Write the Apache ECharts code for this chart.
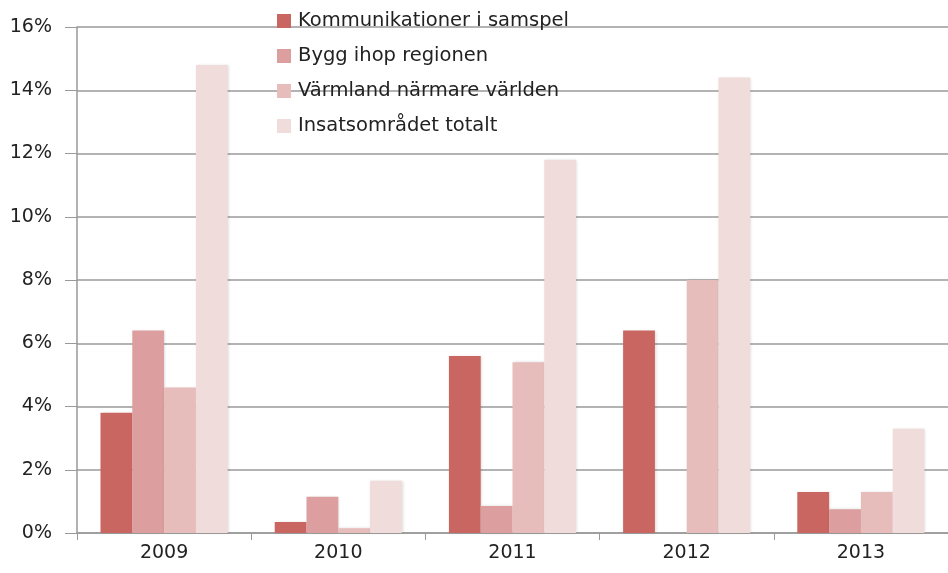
<!DOCTYPE html>
<html>
<head>
<meta charset="utf-8">
<script src="https://cdn.jsdelivr.net/npm/echarts@6/dist/echarts.min.js"></script>
<style>
  html, body { margin: 0; padding: 0; background: #fff; }
  #chart { width: 948px; height: 573px; }
</style>
</head>
<body>
<div id="chart"></div>
<script>
const years = ['2009', '2010', '2011', '2012', '2013']
const seriesNames = ['Kommunikationer i samspel', 'Bygg ihop regionen', 'Värmland närmare världen', 'Insatsområdet totalt']
const kommunikation = [3.8, 0.35, 5.6, 6.4, 1.3]
const byggIhop = [6.4, 1.15, 0.85, 0, 0.75]
const varmland = [4.6, 0.15, 5.4, 8.0, 1.3]
const totalt = [14.8, 1.65, 11.8, 14.4, 3.3]
const colors = ['#c96661', '#dc9e9e', '#e7bdbb', '#f0dcdb']

const chart = echarts.init(document.getElementById('chart'))
const font = 'DejaVu Sans'
const values = [kommunikation, byggIhop, varmland, totalt]

const option = {
  animation: false,
  textStyle: { fontFamily: font },
  grid: { left: 77, top: 27, width: 876, height: 506 },
  legend: {
    orient: 'vertical',
    left: 272,
    top: 6,
    itemWidth: 14,
    itemHeight: 14,
    itemGap: 15,
    icon: 'rect',
    textStyle: { fontFamily: font, fontSize: 19.5, color: '#222', padding: [0, 0, 0, 2] },
    data: seriesNames
  },
  xAxis: {
    type: 'category',
    data: years,
    axisLine: { show: true, lineStyle: { color: '#999', width: 1.5 } },
    axisTick: { show: true, length: 7, lineStyle: { color: '#999' } },
    axisLabel: { fontSize: 19, color: '#222', margin: 11 }
  },
  yAxis: {
    type: 'value',
    min: 0,
    max: 16,
    interval: 2,
    axisLine: { show: true, lineStyle: { color: '#999', width: 1.5 } },
    axisTick: { show: true, inside: false, length: 12, lineStyle: { color: '#999' } },
    splitLine: { lineStyle: { color: '#9a9a9a', width: 1.5 } },
    axisLabel: { fontSize: 19, color: '#222', margin: 25, formatter: '{value}%' }
  },
  series: seriesNames.map((name, i) => ({
    name: name,
    type: 'bar',
    data: values[i],
    barGap: '0%',
    barCategoryGap: '27%',
    itemStyle: {
      color: colors[i],
      shadowColor: 'rgba(0,0,0,0.15)',
      shadowBlur: 3,
      shadowOffsetX: 1
    }
  }))
}
chart.setOption(option)
</script>
</body>
</html>
